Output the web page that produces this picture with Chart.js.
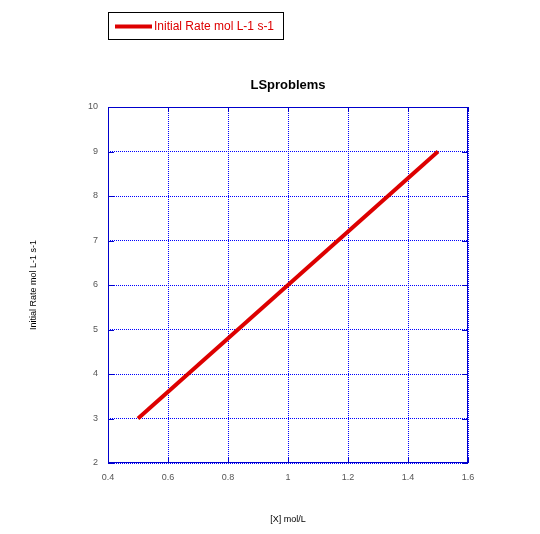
<!doctype html>
<html lang="en">
<head>
<meta charset="UTF-8">
<title>LSproblems</title>
<script src="https://cdn.jsdelivr.net/npm/chart.js"></script>
<style>
  html, body { margin: 0; padding: 0; background: #fff; }
  #wrap { width: 540px; height: 534px; }
</style>
</head>
<body>
<div id="wrap"><canvas id="myChart" width="540" height="534"></canvas></div>
<script>
    // data
    var xValues = [0.5, 1.0, 1.5];
    var rateValues = [3, 6, 9];
    var seriesLabel = 'Initial Rate mol L-1 s-1';
    var chartTitle = 'LSproblems';
    var xTitle = '[X] mol/L';
    var yTitle = 'Initial Rate mol L-1 s-1';

    var points = xValues.map(function (x, i) { return {x: x, y: rateValues[i]}; });
    var FONT = '"Liberation Sans", Arial, sans-serif';
    var BLUE = '#0000ff';
    var FRAME = '#0000cc';

    // frame, inner tick marks, title over the plot and the boxed legend
    var framePlugin = {
        id: 'frame',
        afterDraw: function (chart) {
            var c = chart.ctx, a = chart.chartArea;
            var xs = chart.scales.x, ys = chart.scales.y;
            c.save();
            c.strokeStyle = FRAME;
            c.lineWidth = 1;
            c.setLineDash([]);
            c.strokeRect(a.left + 0.5, a.top + 0.5, a.right - a.left - 1, a.bottom - a.top - 1);
            c.beginPath();
            xs.ticks.forEach(function (t) {
                var px = Math.round(xs.getPixelForValue(t.value)) + 0.5;
                c.moveTo(px, a.bottom); c.lineTo(px, a.bottom - 5);
                c.moveTo(px, a.top); c.lineTo(px, a.top + 5);
            });
            ys.ticks.forEach(function (t) {
                var py = Math.round(ys.getPixelForValue(t.value)) + 0.5;
                c.moveTo(a.left, py); c.lineTo(a.left + 6, py);
                c.moveTo(a.right, py); c.lineTo(a.right - 6, py);
            });
            c.stroke();

            // title centred over the plot
            c.fillStyle = '#000';
            c.font = 'bold 13px ' + FONT;
            c.textAlign = 'center';
            c.textBaseline = 'middle';
            c.fillText(chartTitle, (a.left + a.right) / 2, 85);

            // legend
            c.textAlign = 'left';
            c.strokeStyle = '#000';
            c.lineWidth = 1;
            c.strokeRect(108.5, 12.5, 175, 27);
            c.strokeStyle = '#dd0000';
            c.lineWidth = 4;
            c.beginPath();
            c.moveTo(115, 26.5); c.lineTo(152, 26.5);
            c.stroke();
            c.fillStyle = '#dd0000';
            c.font = '12px ' + FONT;
            c.fillText(chart.data.datasets[0].label, 154, 26.5);
            c.restore();
        }
    };

    var myChart = new Chart(document.getElementById('myChart'), {
        type: 'line',
        data: {
            datasets: [{
                label: seriesLabel,
                data: points,
                borderColor: '#dd0000',
                backgroundColor: '#dd0000',
                borderWidth: 4,
                pointRadius: 0,
                tension: 0
            }]
        },
        options: {
            responsive: false,
            animation: false,
            layout: { padding: { left: 0, right: 72, top: 107, bottom: 0 } },
            plugins: {
                legend: { display: false },
                tooltip: { enabled: false },
                title: { display: false }
            },
            scales: {
                x: {
                    type: 'linear',
                    min: 0.4, max: 1.6,
                    ticks: {
                        stepSize: 0.2,
                        padding: 9,
                        color: '#555',
                        font: { family: FONT, size: 9 },
                        callback: function (v) { return Math.round(v * 10) / 10; }
                    },
                    grid: { color: BLUE, lineWidth: 1, drawTicks: false },
                    border: { display: false, dash: [1, 1] },
                    title: {
                        display: true,
                        text: xTitle,
                        color: '#000',
                        font: { family: FONT, size: 9 },
                        padding: { top: 4, bottom: 9 }
                    },
                    afterFit: function (s) { s.height = 71; }
                },
                y: {
                    min: 2, max: 10,
                    ticks: {
                        stepSize: 1,
                        padding: 10,
                        color: '#555',
                        font: { family: FONT, size: 9 }
                    },
                    grid: { color: BLUE, lineWidth: 1, drawTicks: false },
                    border: { display: false, dash: [1, 1] },
                    title: {
                        display: true,
                        text: yTitle,
                        color: '#000',
                        font: { family: FONT, size: 9 },
                        padding: { top: 28 }
                    },
                    afterFit: function (s) { s.width = 108; }
                }
            }
        },
        plugins: [framePlugin]
    });
</script>
</body>
</html>
